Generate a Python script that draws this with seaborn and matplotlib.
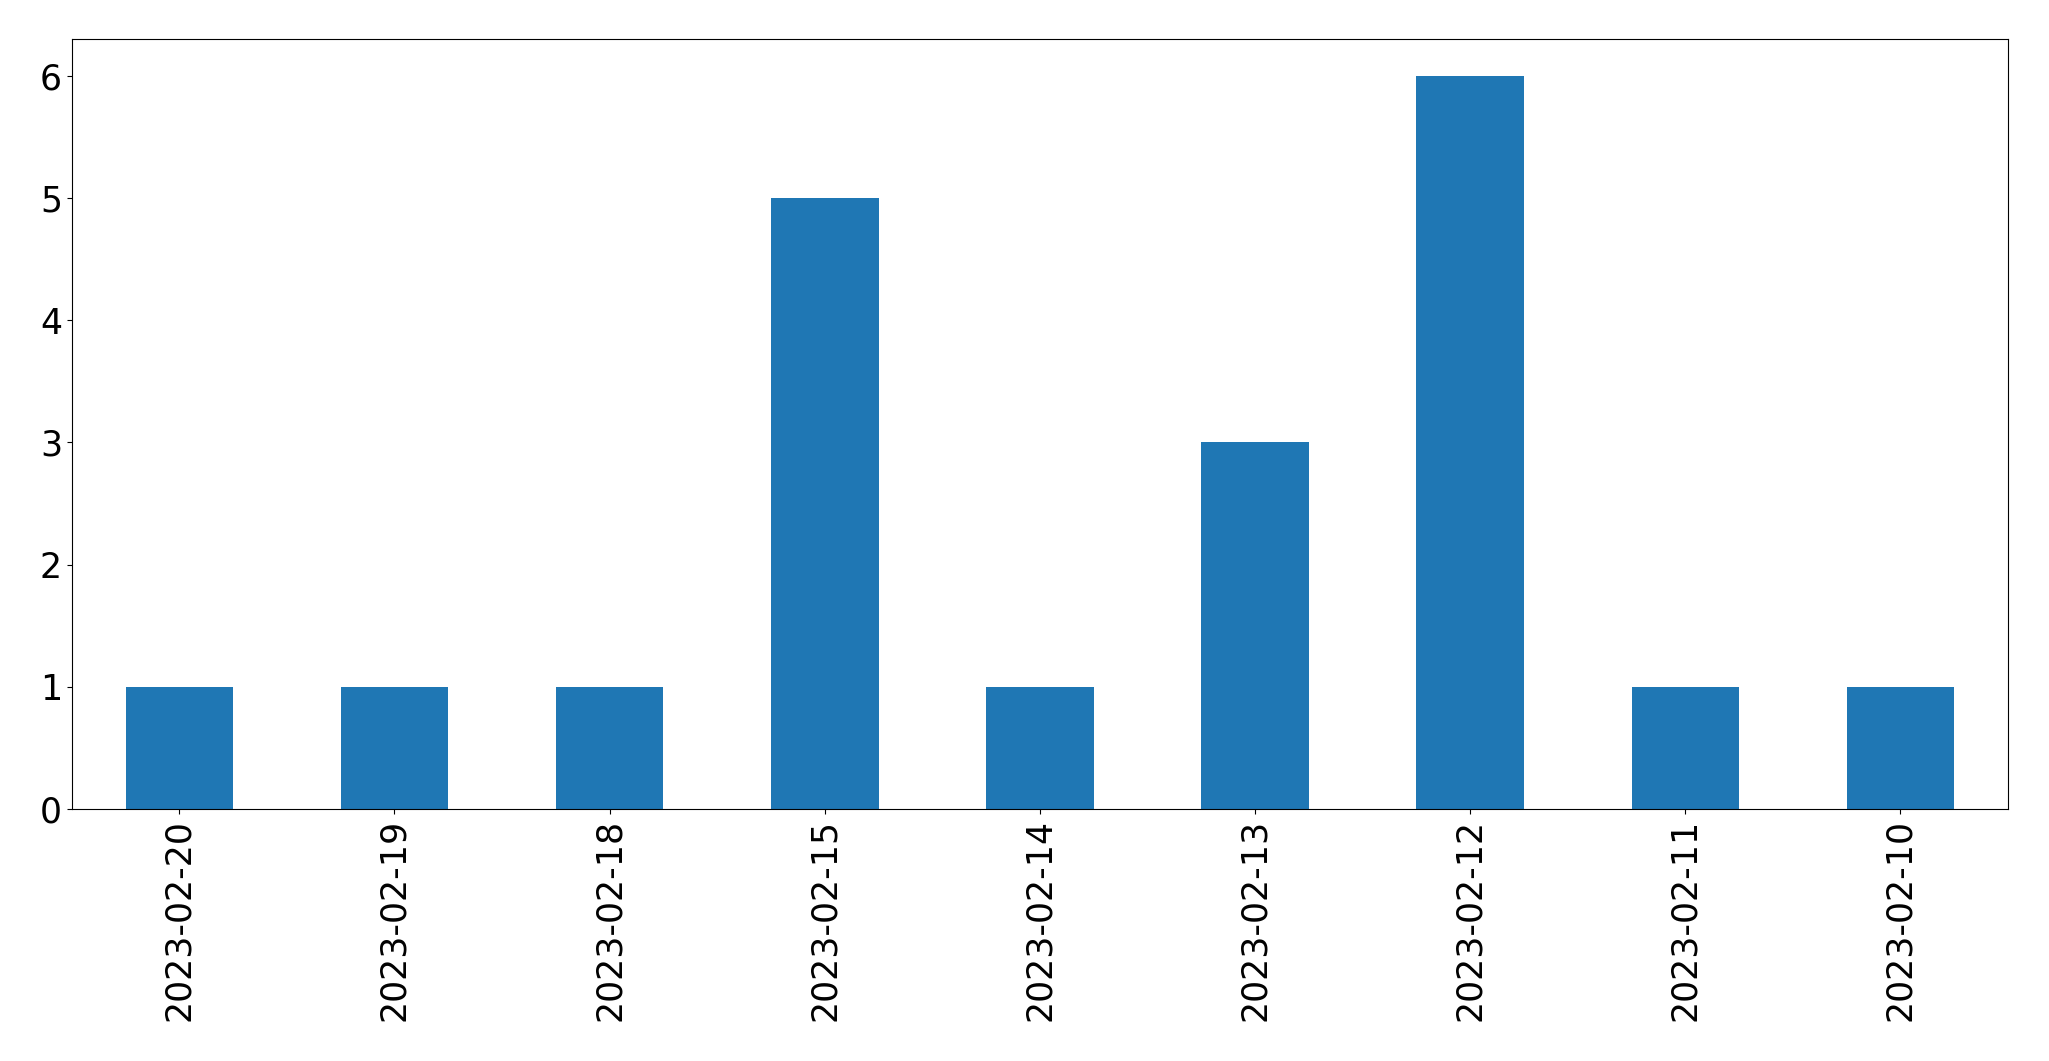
import pandas as pd
import numpy as np
import matplotlib
matplotlib.use("Agg")
import matplotlib.pyplot as plt
import seaborn as sns

# counts per date, in the order shown
dates = ["2023-02-20", "2023-02-19", "2023-02-18", "2023-02-15", "2023-02-14",
         "2023-02-13", "2023-02-12", "2023-02-11", "2023-02-10"]
counts = [1, 1, 1, 5, 1, 3, 6, 1, 1]

df = pd.DataFrame({"date": dates, "count": counts})

sns.set_style("white")
plt.rcParams['font.family'] = ['DejaVu Sans']
plt.rcParams['text.color'] = 'black'
plt.rcParams['xtick.color'] = 'black'
plt.rcParams['ytick.color'] = 'black'

fig, ax = plt.subplots(figsize=(20.49, 10.61), dpi=100)
sns.barplot(data=df, x="date", y="count", order=dates, color="#1f77b4",
            saturation=1, width=0.5, linewidth=0, ax=ax)
ax.set_xlim(-0.5, len(dates) - 0.5)
ax.set_xlabel("")
ax.set_ylabel("")
ax.tick_params(axis="x", labelsize=25, rotation=90, length=3.5, width=0.8,
               bottom=True, colors="black")
ax.tick_params(axis="y", labelsize=25, length=3.5, width=0.8, left=True,
               colors="black")
for s in ax.spines.values():
    s.set_color("black")
    s.set_linewidth(0.8)

plt.subplots_adjust(left=0.035, right=0.98, top=0.963, bottom=0.2375)
plt.savefig("out.png")
